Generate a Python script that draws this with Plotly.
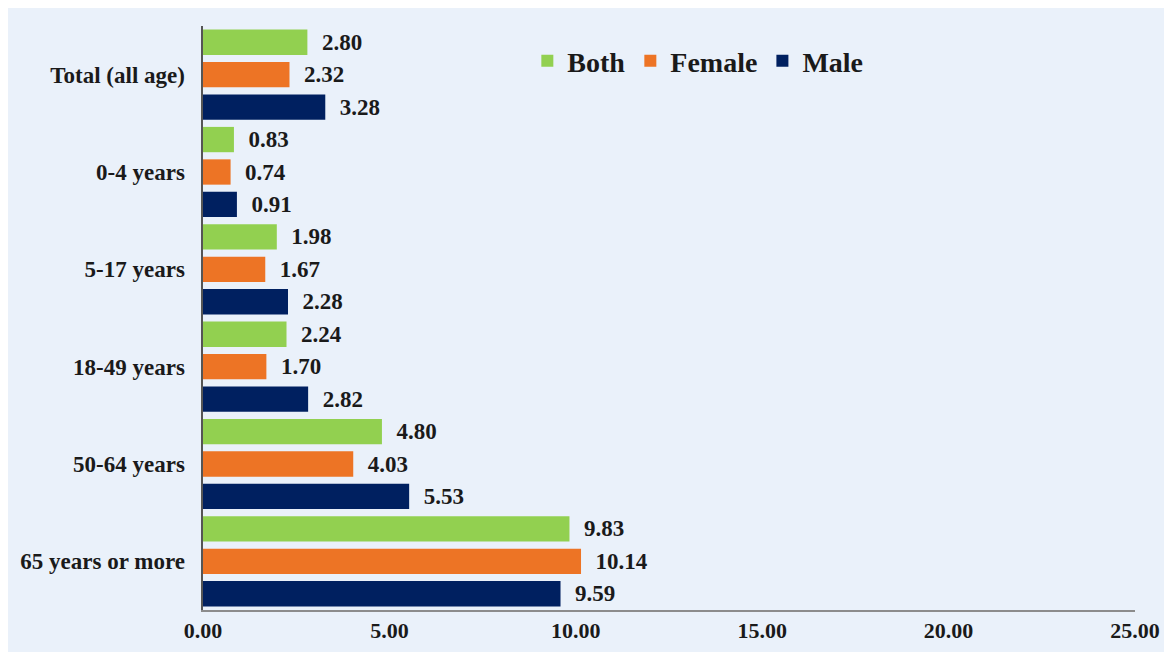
import plotly.graph_objects as go

categories = ["Total (all age)", "0-4 years", "5-17 years", "18-49 years", "50-64 years", "65 years or more"]
both = [2.80, 0.83, 1.98, 2.24, 4.80, 9.83]
female = [2.32, 0.74, 1.67, 1.70, 4.03, 10.14]
male = [3.28, 0.91, 2.28, 2.82, 5.53, 9.59]

series = [("Both", both, "#92D050"), ("Female", female, "#ED7425"), ("Male", male, "#002060")]

fig = go.Figure()
for name, vals, color in series:
    fig.add_trace(go.Bar(
        y=categories, x=vals, name=name, orientation="h",
        marker=dict(color=color, line=dict(width=0)),
        text=[f"  {v:.2f}" for v in vals], textposition="outside",
        textfont=dict(family="Liberation Serif", size=23, color="#1a1a1a", weight="bold"),
        cliponaxis=False,
    ))

fig.update_layout(
    width=1172, height=652,
    barmode="group", bargap=0.0, bargroupgap=0.22,
    paper_bgcolor="#EAF1FA", plot_bgcolor="#EAF1FA",
    margin=dict(l=195, r=45, t=18, b=50),
    font=dict(family="Liberation Serif", size=23, color="#1a1a1a", weight="bold"),
    legend=dict(orientation="h", x=0.348, y=0.94, xanchor="left", yanchor="middle",
                font=dict(size=28, weight="bold"), bgcolor="rgba(0,0,0,0)",
                itemwidth=30, traceorder="normal"),
    xaxis=dict(range=[0, 25], tickvals=[0, 5, 10, 15, 20, 25], tickformat=".2f",
               showgrid=False, zeroline=False, showline=True, linecolor="#8c8c8c",
               linewidth=2, ticks="", tickfont=dict(size=22)),
    yaxis=dict(autorange="reversed", showgrid=False, showline=True, linecolor="#555555",
               linewidth=2, ticks="", ticksuffix="  ", tickfont=dict(size=23)),
)

fig.write_html("out.html")
